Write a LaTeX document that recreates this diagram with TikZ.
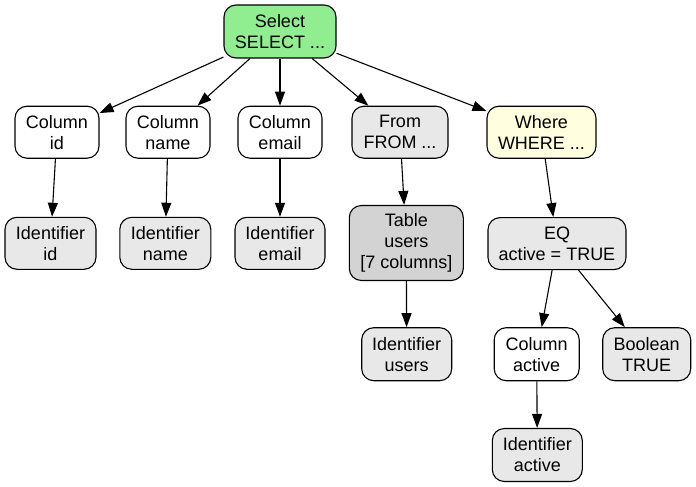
\documentclass[tikz,border=0pt]{standalone}
\usepackage{fontspec}
\setmainfont{Liberation Sans}
\usetikzlibrary{arrows.meta}
\definecolor{selgreen}{HTML}{90EE90}
\definecolor{whereyellow}{HTML}{FFFFE0}
\definecolor{nodegray}{HTML}{E8E8E8}
\definecolor{tablegray}{HTML}{D3D3D3}
\tikzset{
  astnode/.style={draw=black, line width=1.1pt, rounded corners=12pt, align=center,
    inner sep=0pt, minimum height=52pt, font=\fontsize{18}{21}\selectfont},
  graynode/.style={astnode, fill=nodegray},
  whitenode/.style={astnode, fill=white},
  edge/.style={line width=1.1pt, -{Triangle[length=14pt,width=10pt]}},
}
\begin{document}
\begin{tikzpicture}[x=1pt,y=-1pt]
\useasboundingbox (0,0) rectangle (696,487);
\node[astnode, fill=selgreen, minimum width=112pt, minimum height=53pt] (sel) at (280,31.5) {Select\\SELECT ...};
\node[whitenode, minimum width=84pt] (cid) at (57,132.2) {Column\\id};
\node[whitenode, minimum width=84pt] (cname) at (168,132.2) {Column\\name};
\node[whitenode, minimum width=84pt] (cemail) at (280,132.2) {Column\\email};
\node[graynode, minimum width=96pt] (from) at (400,132.2) {From\\FROM ...};
\node[astnode, fill=whereyellow, minimum width=109pt] (where) at (541.5,132.2) {Where\\WHERE ...};
\node[graynode, minimum width=91pt] (iid) at (50.5,243.3) {Identifier\\id};
\node[graynode, minimum width=91pt] (iname) at (165.3,243.3) {Identifier\\name};
\node[graynode, minimum width=90pt] (iemail) at (280,243.3) {Identifier\\email};
\node[astnode, fill=tablegray, minimum width=114pt, minimum height=75pt] (table) at (406.3,243) {Table\\users\\{[7 columns]}};
\node[graynode, minimum width=138pt] (eq) at (557,243.6) {EQ\\active = TRUE};
\node[graynode, minimum width=90pt, minimum height=53pt] (iusers) at (406.7,354.2) {Identifier\\users};
\node[whitenode, minimum width=85pt, minimum height=53pt] (cactive) at (536.7,354.2) {Column\\active};
\node[graynode, minimum width=88pt, minimum height=53pt] (bool) at (646.7,354.2) {Boolean\\TRUE};
\node[graynode, minimum width=90pt, minimum height=53pt] (iactive) at (537.3,455) {Identifier\\active};
\draw[edge] (sel) -- (cid);
\draw[edge] (sel) -- (cname);
\draw[edge] (sel) -- (cemail);
\draw[edge] (sel) -- (from);
\draw[edge] (sel) -- (where);
\draw[edge] (cid) -- (iid);
\draw[edge] (cname) -- (iname);
\draw[edge] (cemail) -- (iemail);
\draw[edge] (from) -- (table);
\draw[edge] (where) -- (eq);
\draw[edge] (table) -- (iusers);
\draw[edge] (eq) -- (cactive);
\draw[edge] (eq) -- (bool);
\draw[edge] (cactive) -- (iactive);
\end{tikzpicture}
\end{document}
